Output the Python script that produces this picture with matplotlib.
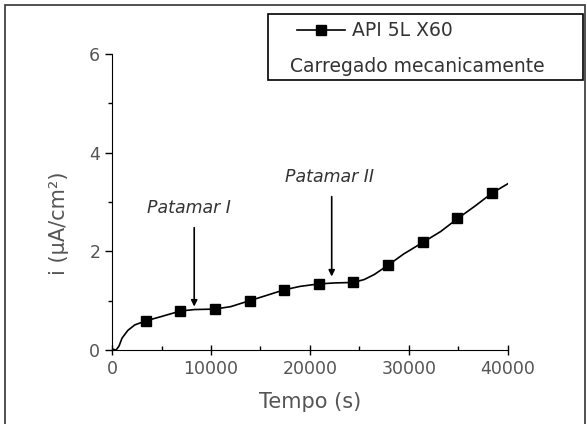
import matplotlib
matplotlib.use("Agg")
import matplotlib.pyplot as plt
import matplotlib.ticker as ticker
from matplotlib.lines import Line2D
from matplotlib.patches import Rectangle

plt.rcParams["font.family"] = ["DejaVu Sans"]

# curve
tempo = [0, 400, 700, 1000, 1600, 2300, 3400, 5000, 6900, 8300, 10400, 12000,
         13900, 15500, 17400, 19000, 20900, 22500, 24400, 25500, 26500, 27900,
         29500, 31400, 33200, 34900, 36700, 38400, 40000]
corrente = [0.02, 0.0, 0.08, 0.24, 0.40, 0.51, 0.59, 0.68, 0.79, 0.82, 0.83, 0.88,
            1.00, 1.10, 1.22, 1.29, 1.34, 1.36, 1.37, 1.43, 1.53, 1.72,
            1.95, 2.18, 2.40, 2.66, 2.92, 3.18, 3.37]

# square markers
tempo_mk = [3400, 6900, 10400, 13900, 17400, 20900, 24400, 27900, 31400, 34900, 38400]
corrente_mk = [0.59, 0.79, 0.83, 0.99, 1.22, 1.34, 1.37, 1.72, 2.18, 2.67, 3.19]

# arrows: (label, x, text x, text y, arrow top, arrow tip)
patamares = [("Patamar I", 8300, 7800, 2.88, 2.48, 0.88),
             ("Patamar II", 22200, 22000, 3.51, 3.11, 1.49)]

legenda = ["API 5L X60", "Carregado mecanicamente"]

W, H = 587, 424
fig = plt.figure(figsize=(W / 100, H / 100), dpi=100)
ax = fig.add_axes([0.191, 0.1745, 0.674, 0.698])

ax.plot(tempo, corrente, color="black", lw=1.2)
ax.plot(tempo_mk, corrente_mk, "s", color="black", ms=6.5)

for txt, xa, xt, yt, ytop, ytip in patamares:
    ax.text(xt, yt, txt, style="italic", fontsize=12.5, color="#333333",
            ha="center", va="center")
    ax.annotate("", xy=(xa, ytip), xytext=(xa, ytop),
                arrowprops=dict(arrowstyle="-|>", color="black", lw=1.2,
                                mutation_scale=9, shrinkA=0, shrinkB=0))

ax.set_xlim(0, 40000)
ax.set_ylim(0, 6)
ax.spines["top"].set_visible(False)
ax.spines["right"].set_visible(False)
ax.xaxis.set_major_locator(ticker.MultipleLocator(10000))
ax.xaxis.set_minor_locator(ticker.MultipleLocator(5000))
ax.yaxis.set_major_locator(ticker.MultipleLocator(2))
ax.yaxis.set_minor_locator(ticker.MultipleLocator(1))
ax.tick_params(axis="both", which="major", labelsize=12.5, labelcolor="#555555",
               length=5, width=1)
ax.tick_params(axis="both", which="minor", length=3, width=1)
ax.tick_params(axis="x", which="minor", direction="in")
ax.tick_params(axis="x", which="major", direction="inout", length=7)

ax.set_xlabel("Tempo (s)", fontsize=15, color="#555555", labelpad=10)
ax.set_ylabel("i (µA/cm²)", fontsize=15, color="#555555")
ax.yaxis.set_label_coords(-0.11, 0.43)

# legend box drawn by hand (pixel layout)
fig.add_artist(Rectangle((268 / W, 1 - 80 / H), 315 / W, 66 / H,
                         transform=fig.transFigure, fill=False,
                         edgecolor="black", lw=1.2))
fig.add_artist(Line2D([297 / W, 345 / W], [1 - 30 / H, 1 - 30 / H],
                      transform=fig.transFigure, color="black", lw=1.2))
fig.add_artist(Line2D([321 / W], [1 - 30 / H], transform=fig.transFigure,
                      color="black", marker="s", ms=6.5))
fig.text(352 / W, 1 - 30 / H, legenda[0], fontsize=13.5, color="#333333",
         ha="left", va="center")
fig.text(290 / W, 1 - 67 / H, legenda[1], fontsize=13.5, color="#333333",
         ha="left", va="center")

# outer frame
fig.add_artist(Rectangle((5 / W, -0.05), 580 / W, 1.05 - 5 / H,
                         transform=fig.transFigure, fill=False,
                         edgecolor="#333333", lw=1.2))

fig.savefig("out.png", dpi=100)
